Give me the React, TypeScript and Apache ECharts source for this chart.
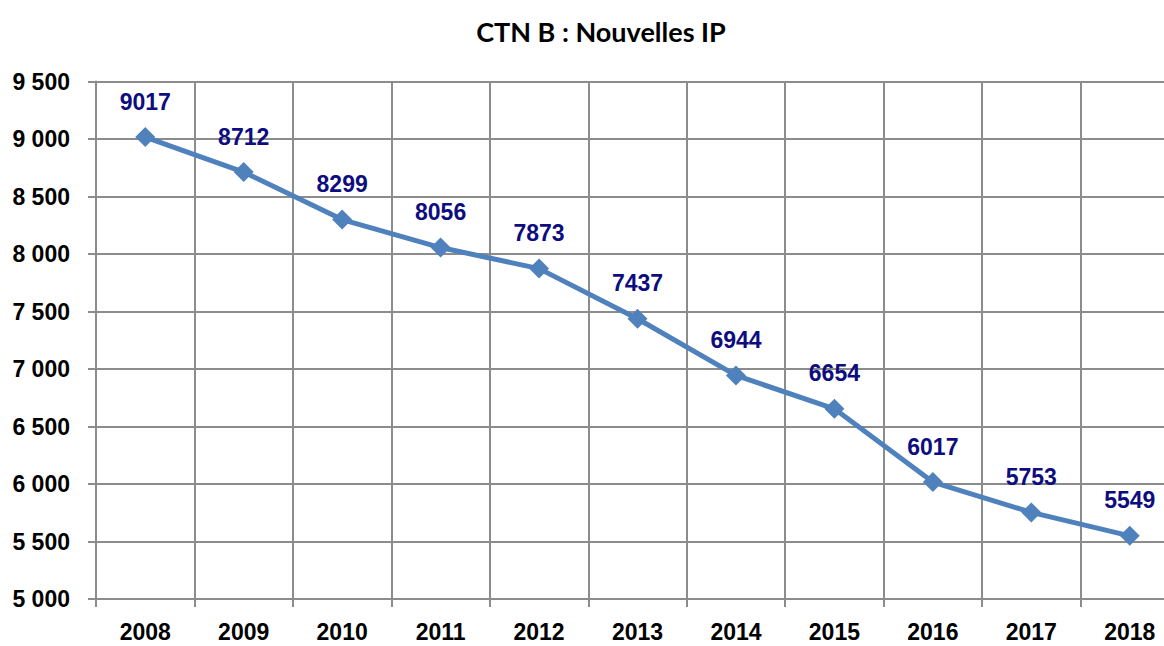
import React, { useEffect, useRef } from "react";
import * as echarts from "echarts";

const years = ["2008", "2009", "2010", "2011", "2012", "2013", "2014", "2015", "2016", "2017", "2018"];
const nouvellesIP = [9017, 8712, 8299, 8056, 7873, 7437, 6944, 6654, 6017, 5753, 5549];
const titleText = "CTN B : Nouvelles IP";

const NARROW = "'Liberation Sans', Arial, sans-serif";

export default function App() {
  const ref = useRef<HTMLDivElement>(null);
  useEffect(() => {
    if (!ref.current) return;
    const chart = echarts.init(ref.current, undefined, { renderer: "svg" });
    chart.setOption({
      animation: false,
      backgroundColor: "#ffffff",
      title: {
        text: titleText,
        left: 596,
        textAlign: "center",
        top: 13,
        textStyle: { fontFamily: "Lato, 'Open Sans', sans-serif", fontWeight: "bold", fontSize: 27, color: "#000" },
      },
      grid: { left: 96, width: 1083, top: 81.5, bottom: 47, containLabel: false, outerBoundsMode: "none" },
      xAxis: {
        type: "category",
        data: years,
        boundaryGap: true,
        axisLine: { show: true, lineStyle: { color: "#8c8c8c", width: 2 } },
        axisTick: { show: true, length: 8, alignWithLabel: false, lineStyle: { color: "#8c8c8c", width: 2 } },
        splitLine: { show: true, interval: 0, lineStyle: { color: "#8c8c8c", width: 2 } },
        axisLabel: { color: "#000", fontFamily: NARROW, fontWeight: "bold", fontSize: 23, margin: 21, interval: 0 },
      },
      yAxis: {
        type: "value",
        min: 5000,
        max: 9500,
        interval: 500,
        axisLine: { show: true, lineStyle: { color: "#8c8c8c", width: 2 } },
        axisTick: { show: true, length: 8, lineStyle: { color: "#8c8c8c", width: 2 } },
        splitLine: { show: true, lineStyle: { color: "#8c8c8c", width: 2 } },
        axisLabel: {
          color: "#000",
          fontFamily: NARROW,
          fontWeight: "bold",
          fontSize: 23,
          margin: 26,
          formatter: (v: number) => {
            const s = String(Math.round(v));
            return s.replace(/\B(?=(\d{3})+(?!\d))/g, " ");
          },
        },
      },
      series: [
        {
          type: "line",
          data: nouvellesIP,
          symbol: "diamond",
          symbolSize: 20,
          lineStyle: { color: "#4f81bd", width: 5 },
          itemStyle: { color: "#4f81bd" },
          label: {
            show: true,
            position: "top",
            distance: 14,
            color: "#0d0d80",
            fontFamily: NARROW,
            fontWeight: "bold",
            fontSize: 23,
          },
        },
      ],
    });
    return () => chart.dispose();
  }, []);
  return <div ref={ref} style={{ position: "absolute", left: 0, top: 0, width: 1164, height: 646 }} />;
}
